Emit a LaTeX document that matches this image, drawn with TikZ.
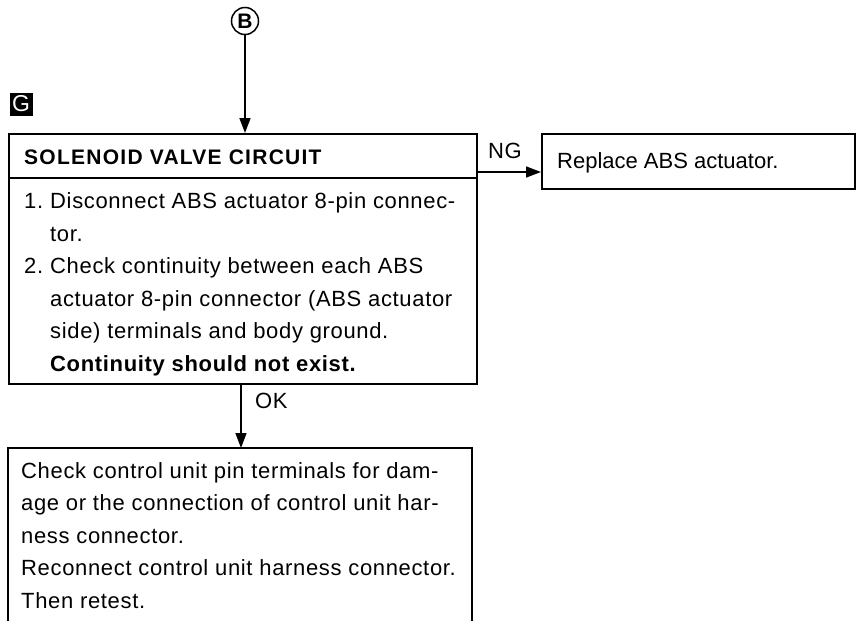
\documentclass[tikz,border=0pt]{standalone}
\usepackage{fontspec}
\setmainfont{Liberation Sans}[LetterSpace=3]
\usetikzlibrary{arrows.meta}
\begin{document}
\begin{tikzpicture}[x=1pt,y=-1pt,
  box/.style={draw, line width=1.7pt, inner sep=0pt},
  conn/.style={line width=1.5pt, -{Triangle[length=15pt,width=11pt]}},
  txt/.style={inner sep=0pt, anchor=base west, font=\fontsize{22}{32.5}\selectfont}]
\useasboundingbox (0,0) rectangle (857,621);
% boxes
\node[box, anchor=north west, minimum width=468pt, minimum height=250pt] (main) at (8,133) {};
\path (main.north west) ++(0,45) coordinate (hl);
\draw[line width=1.7pt] (hl) -- (hl -| main.east);
\node[box, anchor=north west, minimum width=313pt, minimum height=55pt] (rep) at (541,133) {};
\coordinate (chktl) at (8,448);
\coordinate (chktr) at (472,448);
\coordinate (chkbl) at (8,625);
\coordinate (chkbr) at (472,625);
\draw[line width=1.7pt] (chkbl) -- (chktl) -- (chktr) -- (chkbr);
% markers
\node[draw, circle, line width=1.5pt, inner sep=0pt, minimum size=27pt,
      font=\fontsize{21}{21}\selectfont\bfseries\addfontfeature{LetterSpace=0}] (B) at (245,21) {B};
\node[fill=black, text=white, inner sep=0pt, minimum size=23pt,
      font=\fontsize{23}{23}\selectfont\addfontfeature{LetterSpace=0}] (G) at (21,104) {G};
% texts
\node[txt, font=\fontsize{21}{32.5}\selectfont\bfseries\addfontfeature{LetterSpace=6}] (title) at (24,164) {SOLENOID VALVE CIRCUIT};
\node[txt] (steps) at (24,208.5) {\begin{tabular}[t]{@{}p{26pt}@{}l@{}}
1. & Disconnect ABS actuator 8-pin connec-\\
   & tor.\\
2. & Check continuity between each ABS\\
   & actuator 8-pin connector (ABS actuator\\
   & side) terminals and body ground.\\
   & \textbf{Continuity should not exist.}
\end{tabular}};
\node[txt, font=\fontsize{22}{32.5}\selectfont\addfontfeature{LetterSpace=0}] (reptxt) at (557,168) {Replace ABS actuator.};
\node[txt] (chk) at (21,478) {\begin{tabular}[t]{@{}l@{}}
Check control unit pin terminals for dam-\\
age or the connection of control unit har-\\
ness connector.\\
Reconnect control unit harness connector.\\
Then retest.
\end{tabular}};
\node[txt] (ng) at (488,158) {NG};
\node[txt] (ok) at (255,408) {OK};
% connectors
\draw[conn] (B.south) -- (B.south |- main.north);
\coordinate (ngfrom) at (476,172);
\draw[conn] (ngfrom) -- (ngfrom -| rep.west);
\coordinate (okfrom) at (241,383);
\draw[conn] (okfrom) -- (okfrom |- chktl);
\end{tikzpicture}
\end{document}
